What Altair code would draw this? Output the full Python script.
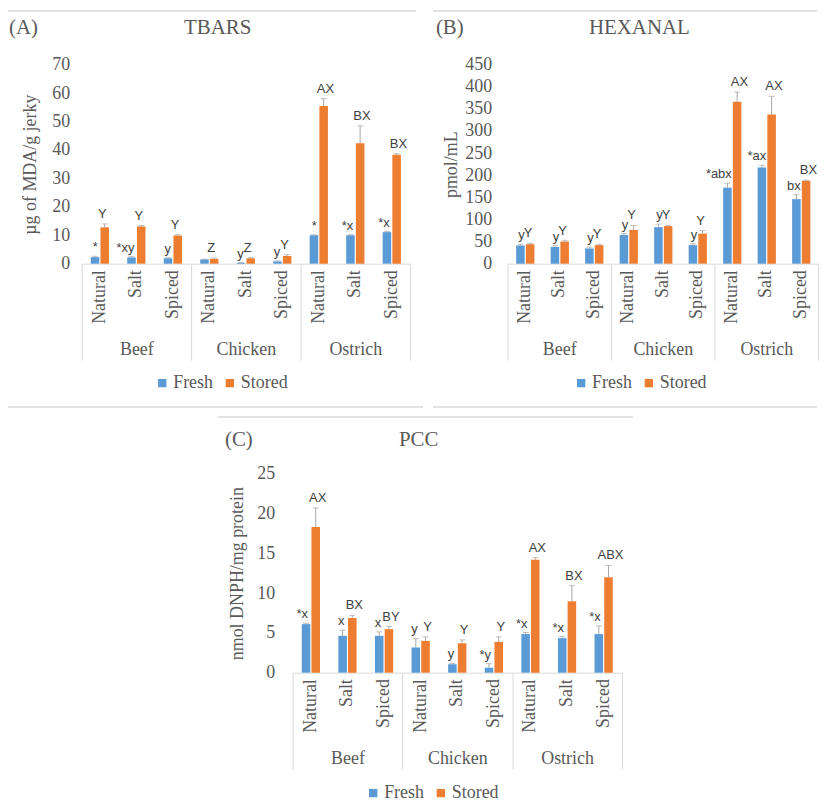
import altair as alt
import pandas as pd

groups = ["Beef", "Chicken", "Ostrich"]
treatments = ["Natural", "Salt", "Spiced"]
storage = ["Fresh", "Stored"]

# (A) TBARS
tbars_fresh = [2.3, 2.2, 1.9, 1.5, 0.3, 0.8, 10.0, 10.0, 11.1]
tbars_fresh_err = [0.3, 0.3, 0.2, 0.1, 0.1, 0.2, 0.2, 0.2, 0.2]
tbars_stored = [12.8, 13.1, 9.9, 1.7, 1.9, 2.7, 55.5, 42.4, 38.3]
tbars_stored_err = [1.2, 0.3, 0.3, 0.3, 0.2, 0.5, 2.6, 6.1, 0.4]
tbars_fresh_lbl = ["*", "*xy", "y", "", "y", "y", "*", "*x", "*x"]
tbars_stored_lbl = ["Y", "Y", "Y", "Z", "Z", "Y", "AX", "BX", "BX"]

# (B) HEXANAL
hex_fresh = [41, 37.5, 34.5, 65, 82.5, 42, 172, 217.5, 146]
hex_fresh_err = [3, 3, 3, 3, 7, 3, 10, 5, 10]
hex_stored = [44, 50, 42, 76.5, 85, 68, 366, 337.5, 187.5]
hex_stored_err = [2, 2, 2, 10, 2, 7, 22, 41, 1.5]
hex_fresh_lbl = ["y", "y", "y", "y", "y", "y", "*abx", "*ax", "bx"]
hex_stored_lbl = ["Y", "Y", "Y", "Y", "Y", "Y", "AX", "AX", "BX"]

# (C) PCC
pcc_fresh = [6.1, 4.63, 4.63, 3.16, 1.06, 0.63, 4.85, 4.34, 4.85]
pcc_fresh_err = [0.1, 0.7, 0.5, 1.14, 0.1, 0.5, 0.2, 0.2, 1.05]
pcc_stored = [18.3, 6.87, 5.47, 4.0, 3.7, 3.87, 14.2, 8.97, 12.0]
pcc_stored_err = [2.4, 0.33, 0.33, 0.5, 0.42, 0.63, 0.25, 1.97, 1.47]
pcc_fresh_lbl = ["*x", "x", "x", "y", "y", "*y", "*x", "*x", "*x"]
pcc_stored_lbl = ["AX", "BX", "BY", "Y", "Y", "Y", "AX", "BX", "ABX"]

SERIF = "Liberation Serif"
SANS = "Liberation Sans"
GRAY = "#595959"
LBL = "#404040"
ERR = "#a6a6a6"
LINE = "#d9d9d9"
BORDER = "#e3e3e3"
COLORS = ["#5B9BD5", "#ED7D31"]

cats = [f"{g}|{t}" for g in groups for t in treatments]


def build_df(fresh, ferr, stored, serr, flbl, slbl):
    rows = []
    i = 0
    for g in groups:
        for t in treatments:
            for s, v, e, l in (("Fresh", fresh[i], ferr[i], flbl[i]),
                               ("Stored", stored[i], serr[i], slbl[i])):
                rows.append({"group": g, "treatment": t, "cat": f"{g}|{t}",
                             "storage": s, "value": v, "hi": v + e, "label": l})
            i += 1
    return pd.DataFrame(rows)


def panel(df, title, ytitle, ymax, ystep, width, ylabpad, ytitlepad, title_dx, title_off,
          legx, legy, fdx, sdx, falign, salign, s_offset, borders):
    xaxis = alt.Axis(title=None, orient="bottom", labelExpr="split(datum.label, '|')[1]",
                     labelAngle=-90, ticks=False, domainColor=LINE, domainWidth=1,
                     labelFont=SERIF, labelFontSize=18, labelColor=GRAY, labelPadding=6)
    xscale = alt.Scale(domain=cats, paddingInner=0.5, paddingOuter=0.25)
    yaxis = alt.Axis(values=list(range(0, ymax + 1, ystep)), grid=False, domain=False,
                     ticks=False, labelOverlap=False, labelFont=SERIF, labelFontSize=18,
                     labelColor=GRAY, labelPadding=ylabpad, title=ytitle, titleFont=SERIF,
                     titleFontSize=18, titleColor=GRAY, titleFontWeight="normal",
                     titlePadding=ytitlepad)
    yscale = alt.Scale(domain=[0, ymax], nice=False)

    def X():
        return alt.X("cat:N", scale=xscale, axis=xaxis)

    def XO():
        return alt.XOffset("storage:N", scale=alt.Scale(domain=storage, paddingInner=0.12))

    def Y(f):
        return alt.Y(f"{f}:Q", scale=yscale, axis=yaxis)

    base = alt.Chart(df)
    bars = base.mark_bar().encode(
        x=X(), xOffset=XO(), y=Y("value"),
        color=alt.Color("storage:N", scale=alt.Scale(domain=storage, range=COLORS),
                        legend=alt.Legend(title=None, orient="none", legendX=legx, legendY=legy,
                                          direction="horizontal", symbolType="square",
                                          symbolSize=70, symbolStrokeWidth=0, labelFont=SERIF,
                                          labelFontSize=18, labelColor=GRAY, columnPadding=8,
                                          labelOffset=2)))
    errs = base.mark_rule(color=ERR, strokeWidth=1).encode(
        x=X(), xOffset=XO(), y=Y("value"), y2="hi:Q")
    caps = base.mark_tick(color=ERR, thickness=1, size=6).encode(
        x=X(), xOffset=XO(), y=Y("hi"))
    ftxt = base.transform_filter(alt.datum.storage == "Fresh").mark_text(
        font=SANS, fontSize=13, color=LBL, align=falign, baseline="bottom", dx=fdx, dy=-2
    ).encode(x=X(), y=Y("hi"), text="label:N")
    stxt_enc = dict(x=X(), y=Y("hi"), text="label:N")
    if s_offset:
        stxt_enc["xOffset"] = XO()
    stxt = base.transform_filter(alt.datum.storage == "Stored").mark_text(
        font=SANS, fontSize=13, color=LBL, align=salign, baseline="bottom", dx=sdx, dy=-3
    ).encode(**stxt_enc)
    inner = alt.layer(bars, errs, caps, ftxt, stxt)
    grp = alt.Chart(df).mark_point(opacity=0).encode(
        x=alt.X("group:N", scale=alt.Scale(domain=groups, paddingInner=0, paddingOuter=0),
                axis=alt.Axis(title=None, orient="bottom", domain=False, tickBand="extent",
                              tickSize=97, tickColor=LINE, tickWidth=1, labelAngle=0,
                              labelFont=SERIF, labelFontSize=18, labelColor=GRAY,
                              labelPadding=-20)))
    layers = [inner, grp]
    for j, (bx1, bx2, by) in enumerate(borders):
        one = pd.DataFrame({"k": [j]})
        layers.append(alt.Chart(one).mark_rect(color=BORDER, strokeWidth=0).encode(
            x=alt.value(bx1), x2=alt.value(bx2), y=alt.value(by - 1), y2=alt.value(by + 1)))
    return alt.layer(*layers).resolve_scale(x="independent").properties(
        width=width, height=200,
        title=alt.TitleParams(title, anchor="start", frame="group", dx=title_dx, font=SERIF,
                              fontSize=21, color=GRAY, fontWeight="normal", offset=title_off))


EM = "\u2003"
A = panel(build_df(tbars_fresh, tbars_fresh_err, tbars_stored, tbars_stored_err,
                   tbars_fresh_lbl, tbars_stored_lbl),
          "(A)" + EM * 7 + "TBARS", "\u00b5g of MDA/g jerky", 70, 10, 330, 12, 12, -73, -28,
          72, 311, -2, -2, "right", "left", False,
          [(-74, 336, -54), (-74, 343, 344)])
B = panel(build_df(hex_fresh, hex_fresh_err, hex_stored, hex_stored_err,
                   hex_fresh_lbl, hex_stored_lbl),
          "(B)" + EM * 6 + "HEXANAL", "pmol/mL", 450, 50, 312, 16, 4, -72, -28,
          65, 311, 0, -1, "right", "left", False,
          [(-75, 311, -54), (-75, 311, 344)])
C = panel(build_df(pcc_fresh, pcc_fresh_err, pcc_stored, pcc_stored_err,
                   pcc_fresh_lbl, pcc_stored_lbl),
          "(C)" + EM * 7 + "PCC", "nmol DNPH/mg protein", 25, 5, 331, 18, 10, -68, -34,
          72, 312, -3, 2, "right", "center", True,
          [(-75, 342, -57)])

spacer = alt.Chart(pd.DataFrame({"a": [0]})).mark_point(opacity=0).properties(width=137, height=10)

row1 = alt.hconcat(A, B, spacing=10).resolve_scale(color="independent").resolve_legend(color="independent")
row2 = alt.hconcat(spacer, C, spacing=0).resolve_scale(color="independent").resolve_legend(color="independent")

chart = alt.vconcat(row1, row2, spacing=8).resolve_scale(
    color="independent").resolve_legend(color="independent").configure_view(
    stroke=None).properties(padding={"left": 0, "top": 0, "right": 0, "bottom": 0})

chart.save("out.html", embed_options={"renderer": "svg", "actions": False})
